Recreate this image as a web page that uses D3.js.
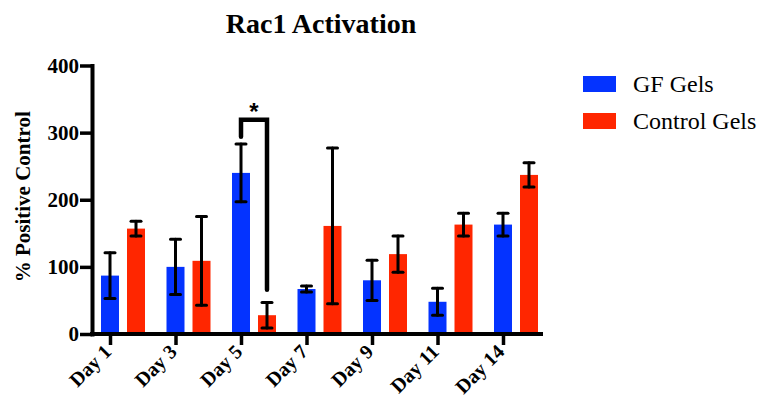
<!DOCTYPE html>
<html>
<head>
<meta charset="utf-8">
<script src="https://cdn.jsdelivr.net/npm/d3@7"></script>
<style>
  html, body { margin: 0; padding: 0; background: #fff; }
  svg { display: block; }
</style>
</head>
<body>
<svg id="chart" width="760" height="400"></svg>
<script>
// Rac1 activation (% of positive control), mean and error per day
const days = ["Day 1", "Day 3", "Day 5", "Day 7", "Day 9", "Day 11", "Day 14"];
const gfMean = [87, 100, 240, 67, 80, 48, 163];
const gfErr = [34, 41, 43, 4.5, 30, 20, 17];
const ctrlMean = [157, 109, 28, 161, 119, 163, 237];
const ctrlErr = [11, 66, 19, 116, 27, 17, 18];
const seriesNames = ["GF Gels", "Control Gels"];
const seriesColors = ["#0433FF", "#FF2600"];
const yTicks = [0, 100, 200, 300, 400];
// significance bracket between the Day 5 groups (levels in % units)
const sigDay = "Day 5";
const sigTop = 319;
const sigLeftEnd = 294;
const sigRightEnd = 66;
const sigLabel = "*";

const svg = d3.select("#chart");
const SERIF = '"Liberation Serif"';
const SANS = '"Liberation Sans"';

const y = d3.scaleLinear().domain([0, 400]).range([334, 65.5]);
const x = d3.scalePoint().domain(days).range([110, 503]);
const barW = 18;
const groupOffset = 26;   // red bar sits to the right of the tick

const series = [
  { name: seriesNames[0], color: seriesColors[0], mean: gfMean, err: gfErr, dx: 0 },
  { name: seriesNames[1], color: seriesColors[1], mean: ctrlMean, err: ctrlErr, dx: groupOffset }
];

// bars
series.forEach(s => {
  svg.append("g").selectAll("rect")
    .data(days)
    .join("rect")
    .attr("x", (d) => x(d) + s.dx - barW / 2)
    .attr("width", barW)
    .attr("y", (d, i) => y(s.mean[i]))
    .attr("height", (d, i) => y(0) - y(s.mean[i]))
    .attr("fill", s.color);
});

// error bars
series.forEach(s => {
  const g = svg.append("g")
    .attr("stroke", "#000")
    .attr("stroke-width", 3)
    .attr("stroke-linecap", "round");
  days.forEach((d, i) => {
    const cx = x(d) + s.dx;
    const hi = y(s.mean[i] + s.err[i]);
    const lo = y(Math.max(0, s.mean[i] - s.err[i]));
    g.append("line").attr("x1", cx).attr("x2", cx).attr("y1", hi).attr("y2", lo);
    g.append("line").attr("x1", cx - 5).attr("x2", cx + 5).attr("y1", hi).attr("y2", hi);
    g.append("line").attr("x1", cx - 5).attr("x2", cx + 5).attr("y1", lo).attr("y2", lo);
  });
});

// y axis
const yAxis = svg.append("g")
  .attr("transform", "translate(92,0)")
  .call(d3.axisLeft(y).tickValues(yTicks).tickSize(12).tickSizeOuter(0).tickPadding(1));
yAxis.attr("font-family", null).attr("font-size", null);
yAxis.select(".domain").attr("stroke", "#000").attr("stroke-width", 4).attr("stroke-linecap", "square");
yAxis.selectAll(".tick line").attr("stroke", "#000").attr("stroke-width", 3.5);
yAxis.selectAll(".tick text")
  .attr("fill", "#000")
  .style("font-family", SERIF)
  .style("font-weight", "bold")
  .style("font-size", "21px");

// x axis
svg.append("line")
  .attr("x1", 90).attr("x2", 543)
  .attr("y1", y(0)).attr("y2", y(0))
  .attr("stroke", "#000").attr("stroke-width", 4);
const xAxis = svg.append("g")
  .attr("transform", `translate(0,${y(0)})`)
  .call(d3.axisBottom(x).tickSize(11).tickSizeOuter(0));
xAxis.attr("font-family", null).attr("font-size", null);
xAxis.select(".domain").remove();
xAxis.selectAll(".tick line").attr("stroke", "#000").attr("stroke-width", 3.5);
xAxis.selectAll(".tick text")
  .attr("fill", "#000")
  .attr("text-anchor", "end")
  .attr("dy", null)
  .attr("y", null)
  .attr("transform", "translate(2,19) rotate(-45)")
  .style("font-family", SERIF)
  .style("font-weight", "bold")
  .style("font-size", "20px");

// y axis title
svg.append("text")
  .attr("transform", `translate(30,${(y(0) + y(400)) / 2 - 3}) rotate(-90)`)
  .attr("text-anchor", "middle")
  .style("font-family", SERIF)
  .style("font-weight", "bold")
  .style("font-size", "21px")
  .text("% Positive Control");

// chart title
svg.append("text")
  .attr("x", 321).attr("y", 33)
  .attr("text-anchor", "middle")
  .style("font-family", SERIF)
  .style("font-weight", "bold")
  .style("font-size", "28px")
  .text("Rac1 Activation");

// significance bracket
const bx1 = x(sigDay);
const bx2 = x(sigDay) + groupOffset;
svg.append("path")
  .attr("d", d3.line()([[bx1, y(sigLeftEnd)], [bx1, y(sigTop)], [bx2, y(sigTop)], [bx2, y(sigRightEnd)]]))
  .attr("fill", "none")
  .attr("stroke", "#000")
  .attr("stroke-width", 4.5)
  .attr("stroke-linejoin", "miter")
  .attr("stroke-linecap", "round");
svg.append("text")
  .attr("x", (bx1 + bx2) / 2)
  .attr("y", y(sigTop))
  .attr("text-anchor", "middle")
  .style("font-family", SANS)
  .style("font-weight", "bold")
  .style("font-size", "24px")
  .text(sigLabel);

// legend
const legend = svg.append("g");
series.forEach((s, i) => {
  const ly = 76 + i * 37;
  legend.append("rect")
    .attr("x", 583).attr("y", ly)
    .attr("width", 33).attr("height", 16)
    .attr("fill", s.color);
  legend.append("text")
    .attr("x", 633).attr("y", ly + 16)
    .style("font-family", SERIF)
    .style("font-size", "24px")
    .attr("fill", "#000")
    .text(s.name);
});
</script>
</body>
</html>
